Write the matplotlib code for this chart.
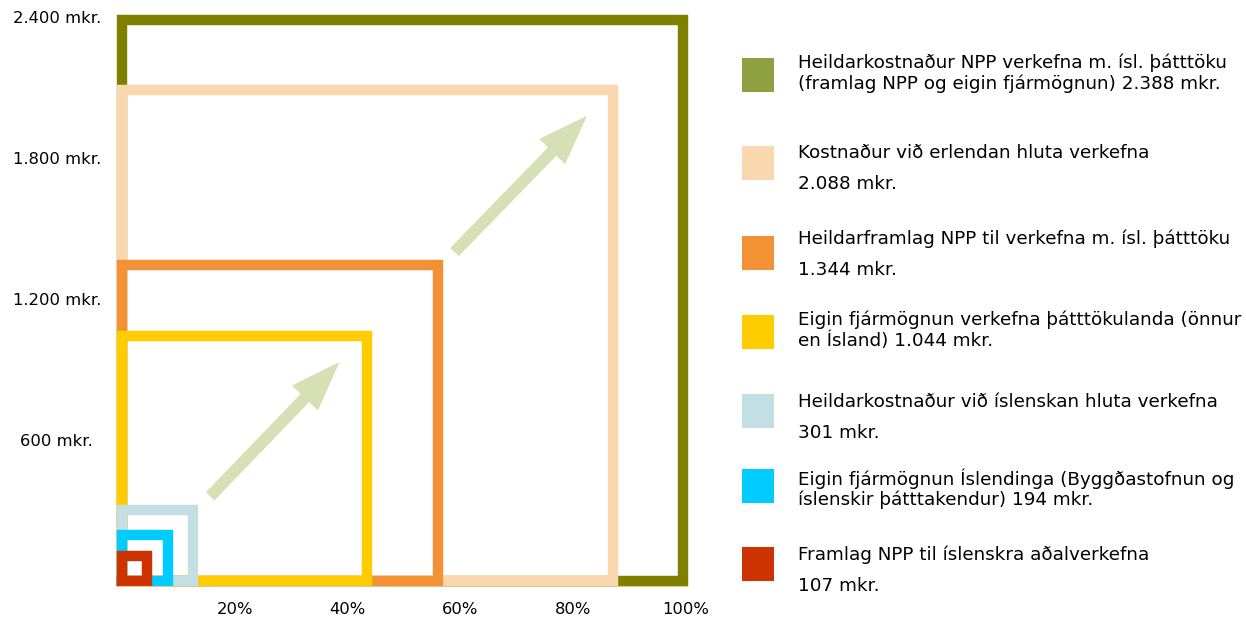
import matplotlib.pyplot as plt
from matplotlib.patches import Rectangle, FancyArrowPatch, ArrowStyle

# values in mkr. (largest first so smaller squares are drawn on top)
values = [2388, 2088, 1344, 1044, 301, 194, 107]
line_colors = ['#808000', '#f9d7af', '#f39234', '#ffcc00', '#c4dfe3', '#00ccff', '#cc3300']
swatch_colors = ['#8ea040', '#f9d7af', '#f39234', '#ffcc00', '#c4dfe3', '#00ccff', '#cc3300']
labels = [
    ('Heildarkostnaður NPP verkefna m. ísl. þátttöku', '(framlag NPP og eigin fjármögnun) 2.388 mkr.'),
    ('Kostnaður við erlendan hluta verkefna', '2.088 mkr.'),
    ('Heildarframlag NPP til verkefna m. ísl. þátttöku', '1.344 mkr.'),
    ('Eigin fjármögnun verkefna þátttökulanda (önnur', 'en Ísland) 1.044 mkr.'),
    ('Heildarkostnaður við íslenskan hluta verkefna', '301 mkr.'),
    ('Eigin fjármögnun Íslendinga (Byggðastofnun og', 'íslenskir þátttakendur) 194 mkr.'),
    ('Framlag NPP til íslenskra aðalverkefna', '107 mkr.'),
]
wrapped = [True, False, False, True, False, True, False]

y_ticks = [600, 1200, 1800, 2400]
y_ticklabels = ['600 mkr.', '1.200 mkr.', '1.800 mkr.', '2.400 mkr.']
x_ticks = [480, 960, 1440, 1920, 2400]
x_ticklabels = ['20%', '40%', '60%', '80%', '100%']

# arrows (tail, tip) in mkr units
arrows = [((375, 360), (926, 932)), ((1415, 1400), (1979, 1980))]

W, H = 1246, 622
fig = plt.figure(figsize=(W / 100, H / 100), dpi=100)
ax = fig.add_axes([122 / W, 41 / H, 564 / W, 564 / H])
ax.set_xlim(0, 2400)
ax.set_ylim(0, 2400)

lw = 7.5
for v, c in zip(values, line_colors):
    ax.plot([0, 0, v, v, 0], [0, v, v, 0, 0], color=c, lw=lw,
            solid_joinstyle='miter', solid_capstyle='projecting', clip_on=False)

ax.plot([-5 * 2400 / 564, 2400], [-5.3 * 2400 / 564] * 2, color='#d9c98f', lw=0.8, clip_on=False)

for tail, tip in arrows:
    ax.add_patch(FancyArrowPatch(tail, tip, arrowstyle=ArrowStyle.Simple(head_length=36, head_width=26, tail_width=8.5),
                                 mutation_scale=1, color='#d7e0b5', lw=0, shrinkA=0, shrinkB=0))

for s in ax.spines.values():
    s.set_visible(False)
ax.set_xticks(x_ticks)
ax.set_xticklabels(x_ticklabels, fontsize=11.8)
ax.set_yticks(y_ticks)
ax.set_yticklabels(y_ticklabels, fontsize=11.8, ha='center')
ax.tick_params(axis='x', length=0, pad=15)
ax.tick_params(axis='y', length=0, pad=47)

# legend
lg = fig.add_axes([0, 0, 1, 1])
lg.set_xlim(0, W)
lg.set_ylim(H, 0)
lg.axis('off')
swatch_tops = [58, 146, 236, 315, 394, 469, 547]
text_y = [63, 153, 239, 320, 402, 479, 555]
for top, ty, c, (l1, l2), wr in zip(swatch_tops, text_y, swatch_colors, labels, wrapped):
    lg.add_patch(Rectangle((742, top), 32, 34, color=c, lw=0))
    gap = 21 if wr else 31
    lg.text(798, ty, l1, fontsize=13.2, va='center', ha='left')
    lg.text(798, ty + gap, l2, fontsize=13.2, va='center', ha='left')

fig.savefig('out.png', dpi=100)
